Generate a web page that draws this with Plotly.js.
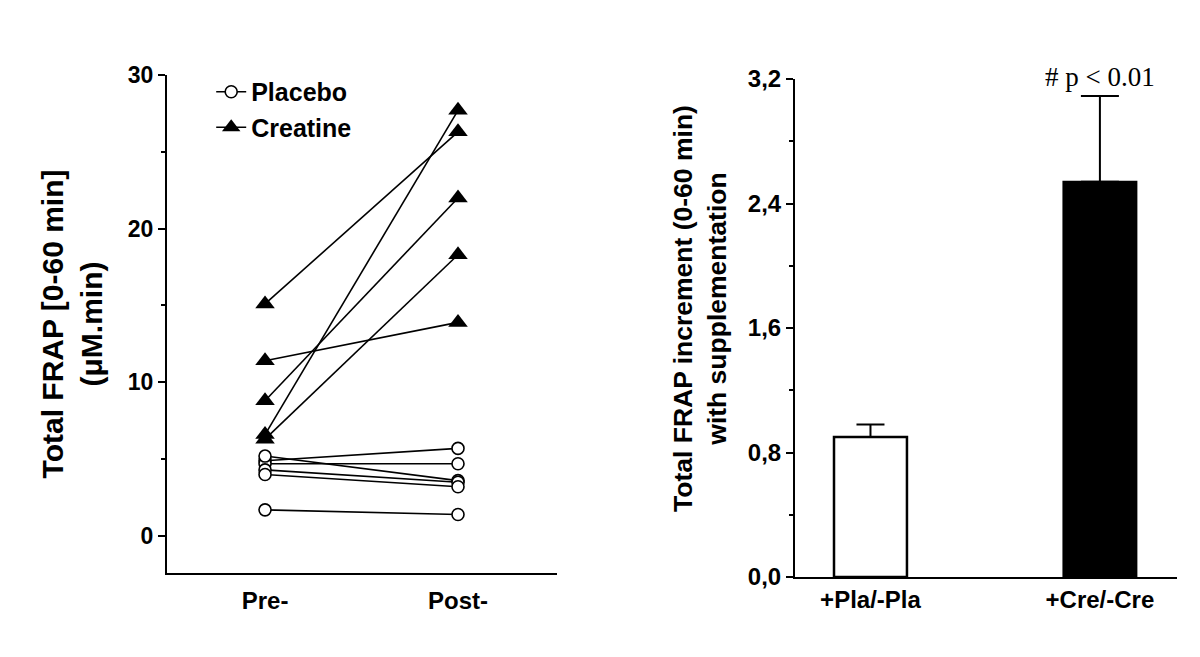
<!DOCTYPE html>
<html>
<head>
<meta charset="utf-8">
<script src="https://cdn.plot.ly/plotly-3.0.1.min.js"></script>
<style>html,body{margin:0;padding:0;background:#fff;}#chart{width:1200px;height:657px;}</style>
</head>
<body>
<div id="chart"></div>
<script>
// ---- Data ----
const timePoints = ['Pre-', 'Post-'];

const creatinePre  = [15.1, 6.6, 8.8, 6.3, 11.4];
const creatinePost = [26.3, 27.7, 22.0, 18.3, 13.9];

const placeboPre  = [4.9, 4.7, 5.2, 4.3, 4.0, 1.7];
const placeboPost = [5.7, 4.7, 3.6, 3.5, 3.2, 1.4];

const barCategories = ['+Pla/-Pla', '+Cre/-Cre'];
const barMeans  = [0.90, 2.54];
const barErrors = [0.08, 0.55];

const leftTickVals  = [0, 10, 20, 30];
const leftTickText  = ['0', '10', '20', '30'];
const rightTickVals = [0, 0.8, 1.6, 2.4, 3.2];
const rightTickText = ['0,0', '0,8', '1,6', '2,4', '3,2'];

const leftTitle  = 'Total FRAP [0-60 min]<br>(μM.min)';
const rightTitle = 'Total FRAP increment (0-60 min)<br>with supplementation';
const sigLabel = '# p < 0.01';

// ---- Styling ----
const SANS = 'Liberation Sans, Arial, sans-serif';
const SERIF = 'Liberation Serif, Times New Roman, serif';
const boldFont = (size) => ({family: SANS, size: size, color: '#000', weight: 'bold'});

const traces = [];

placeboPre.forEach((v, i) => {
  traces.push({
    type: 'scatter', mode: 'lines+markers',
    x: timePoints, y: [placeboPre[i], placeboPost[i]],
    xaxis: 'x', yaxis: 'y',
    name: 'Placebo', legendgroup: 'pla', showlegend: i === 0,
    line: {color: '#000', width: 1.6},
    marker: {symbol: 'circle', size: 12, color: '#fff', line: {color: '#000', width: 1.6}},
    hoverinfo: 'skip'
  });
});

creatinePre.forEach((v, i) => {
  traces.push({
    type: 'scatter', mode: 'lines+markers',
    x: timePoints, y: [creatinePre[i], creatinePost[i]],
    xaxis: 'x', yaxis: 'y',
    name: 'Creatine', legendgroup: 'cre', showlegend: i === 0,
    line: {color: '#000', width: 1.6},
    marker: {symbol: 'triangle-up', size: 17, color: '#000', line: {color: '#000', width: 0}},
    hoverinfo: 'skip'
  });
});

// Bars (one trace per bar so cap widths can differ)
traces.push({
  type: 'bar', x: [barCategories[0]], y: [barMeans[0]],
  xaxis: 'x2', yaxis: 'y2', width: 0.318, showlegend: false,
  marker: {color: '#fff', line: {color: '#000', width: 2.5}},
  error_y: {type: 'data', array: [barErrors[0]], arrayminus: [0], symmetric: false,
            color: '#000', thickness: 2, width: 14},
  hoverinfo: 'skip'
});
traces.push({
  type: 'bar', x: [barCategories[1]], y: [barMeans[1]],
  xaxis: 'x2', yaxis: 'y2', width: 0.318, showlegend: false,
  marker: {color: '#000', line: {color: '#000', width: 2}},
  error_y: {type: 'data', array: [barErrors[1]], arrayminus: [0], symmetric: false,
            color: '#000', thickness: 2, width: 19},
  hoverinfo: 'skip'
});

const layout = {
  width: 1200, height: 657,
  margin: {l: 0, r: 0, t: 0, b: 0},
  paper_bgcolor: '#fff', plot_bgcolor: '#fff',
  showlegend: true,
  barmode: 'overlay',
  legend: {
    x: 0.176, y: 0.895, xanchor: 'left', yanchor: 'top',
    bgcolor: 'rgba(0,0,0,0)', borderwidth: 0,
    font: boldFont(25), tracegroupgap: 0
  },
  xaxis: {
    domain: [167/1200, 557/1200], anchor: 'y',
    type: 'category', range: [-0.508, 1.513],
    showline: true, linecolor: '#000', linewidth: 2,
    ticks: '', showgrid: false, zeroline: false,
    tickfont: boldFont(24), ticklabelstandoff: 5,
    automargin: false
  },
  yaxis: {
    domain: [1 - 573/657, 1 - 75/657], anchor: 'x',
    range: [-2.41, 30],
    tickmode: 'array', tickvals: leftTickVals, ticktext: leftTickText,
    showline: true, linecolor: '#000', linewidth: 2,
    ticks: 'outside', ticklen: 7, tickwidth: 2, tickcolor: '#000',
    minor: {tickmode: 'array', tickvals: [5, 15, 25], ticks: 'outside', ticklen: 4, tickwidth: 2, tickcolor: '#000', showgrid: false},
    showgrid: false, zeroline: false,
    tickfont: boldFont(23),
    title: {text: leftTitle, font: boldFont(30), standoff: 16},
    automargin: false
  },
  xaxis2: {
    domain: [795/1200, 1177/1200], anchor: 'y2',
    type: 'category', range: [-0.329, 1.336],
    showline: true, linecolor: '#000', linewidth: 2,
    ticks: '', showgrid: false, zeroline: false,
    tickfont: boldFont(24), ticklabelstandoff: 0,
    automargin: false
  },
  yaxis2: {
    domain: [1 - 577/657, 1 - 79/657], anchor: 'x2',
    range: [0, 3.2],
    tickmode: 'array', tickvals: rightTickVals, ticktext: rightTickText,
    showline: true, linecolor: '#000', linewidth: 2,
    ticks: 'outside', ticklen: 7, tickwidth: 2, tickcolor: '#000',
    minor: {tickmode: 'array', tickvals: [0.4, 1.2, 2.0, 2.8], ticks: 'outside', ticklen: 4, tickwidth: 2, tickcolor: '#000', showgrid: false},
    showgrid: false, zeroline: false,
    tickfont: boldFont(24),
    automargin: false
  },
  annotations: [
    {
      xref: 'x2', yref: 'y2', x: barCategories[1], y: barMeans[1] + barErrors[1],
      text: sigLabel, showarrow: false, xanchor: 'center', yanchor: 'bottom', yshift: 2,
      font: {family: SERIF, size: 27, color: '#000'}
    },
    {
      xref: 'paper', yref: 'paper', x: 700/1200, y: 1 - 309/657,
      text: rightTitle, showarrow: false, textangle: -90,
      xanchor: 'center', yanchor: 'middle',
      font: boldFont(26.5)
    }
  ]
};

Plotly.newPlot('chart', traces, layout, {staticPlot: true, displayModeBar: false});
</script>
</body>
</html>
